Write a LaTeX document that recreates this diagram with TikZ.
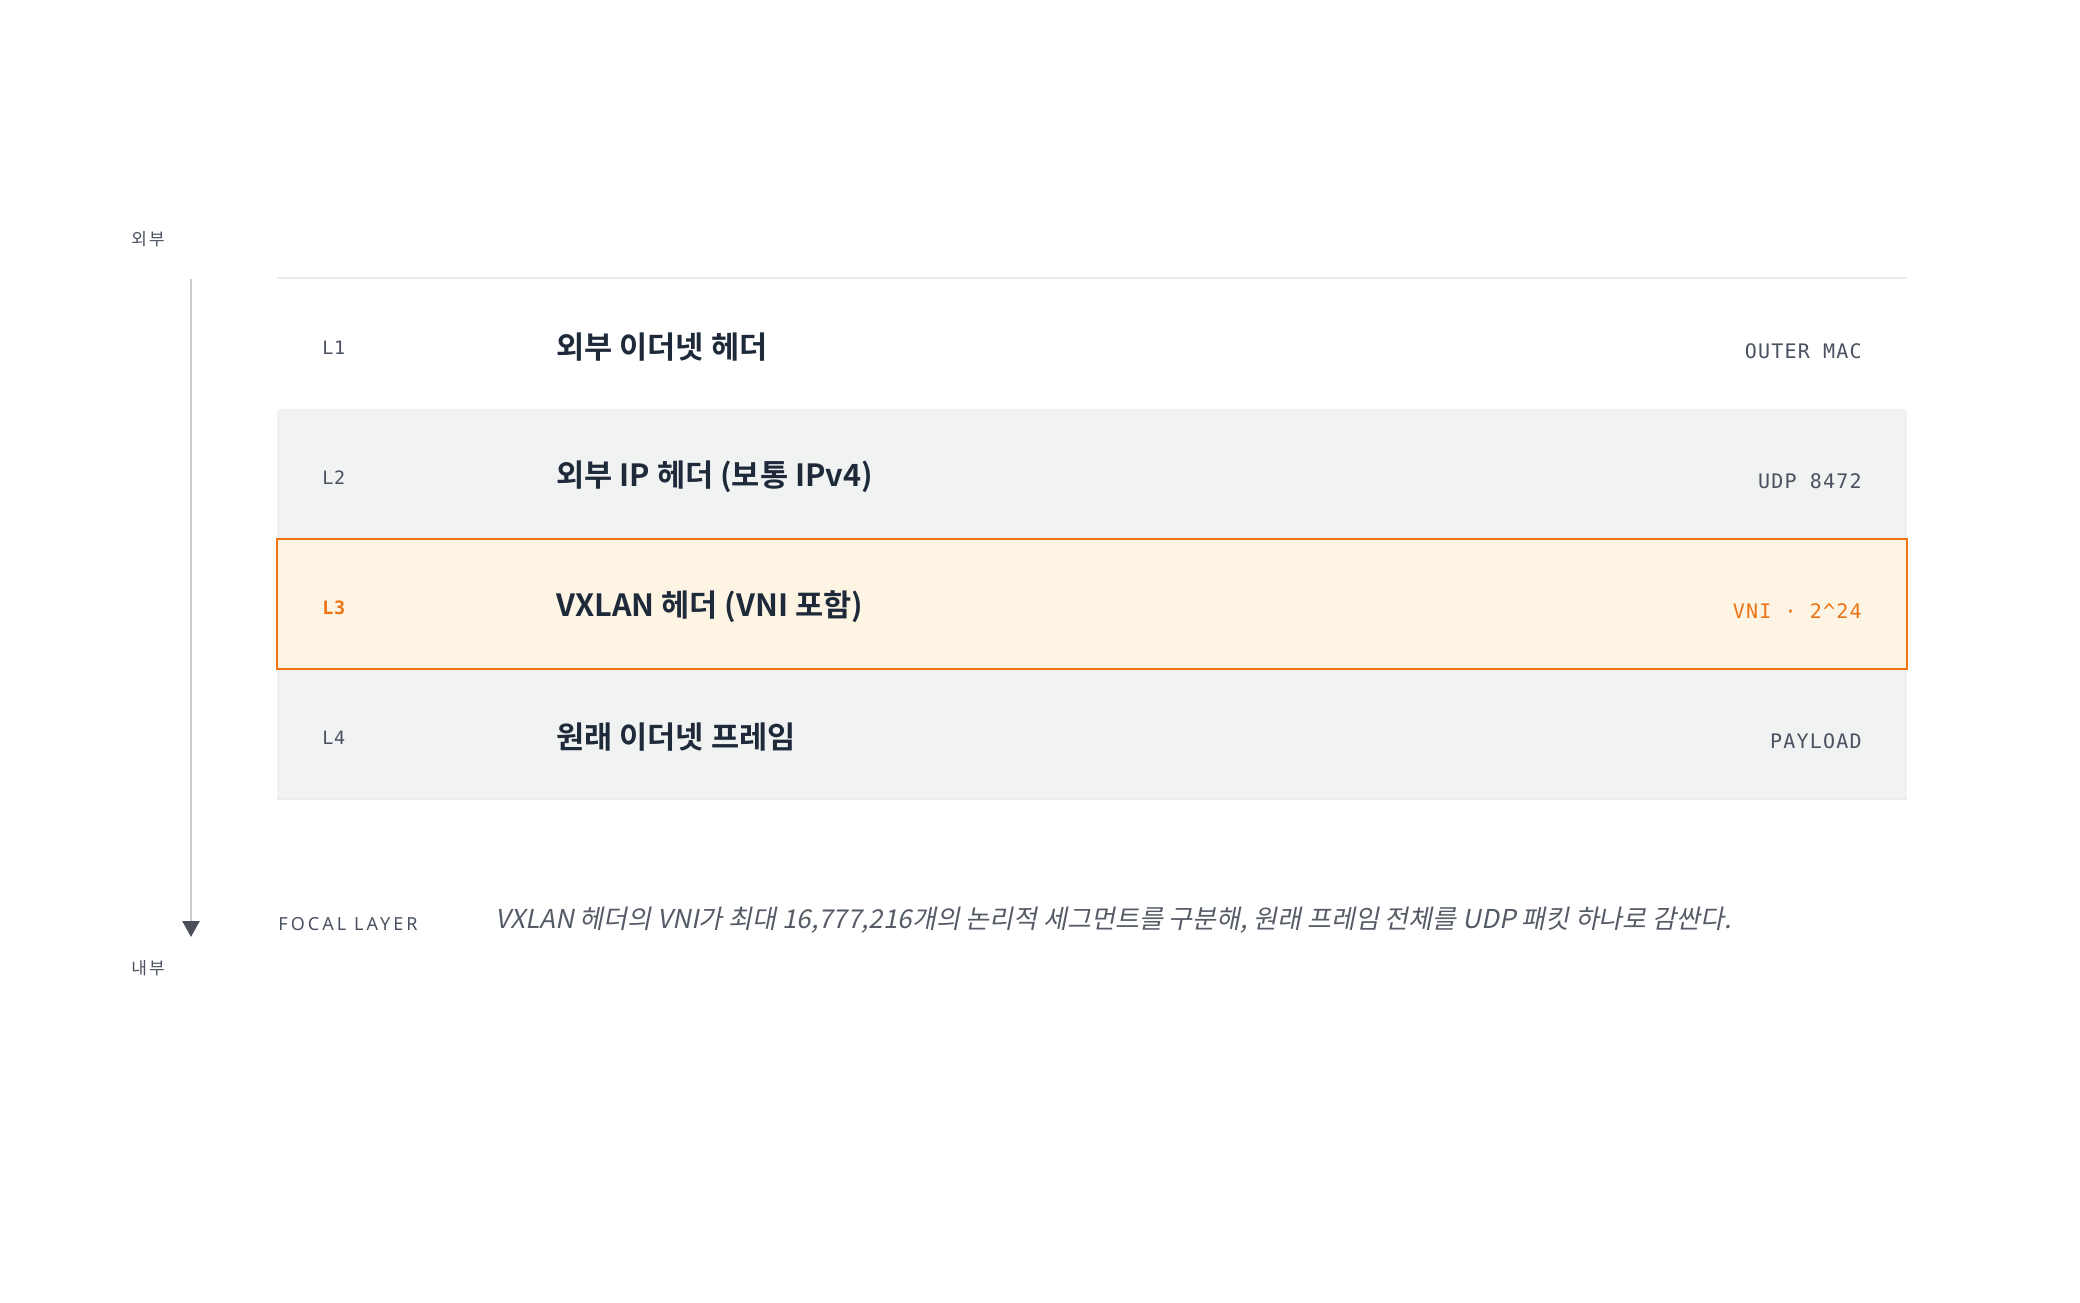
\documentclass[tikz,border=0pt]{standalone}
\usepackage{fontspec}
\usetikzlibrary{arrows.meta}
\newfontfamily\krfont{Noto Sans CJK KR}
\newfontfamily\krbold{Noto Sans CJK KR Bold}
\newfontfamily\krital{Noto Sans CJK KR}[FakeSlant=0.2]
\newfontfamily\krsmall{Noto Sans CJK KR}[LetterSpace=12]
\newfontfamily\monofont{DejaVu Sans Mono}[LetterSpace=6]
\newfontfamily\monotag{DejaVu Sans Mono}[LetterSpace=3]
\newfontfamily\capsfont{Noto Sans}[LetterSpace=17]
\definecolor{titlec}{HTML}{1E2A3A}
\definecolor{monoc}{HTML}{4A5160}
\definecolor{orangec}{HTML}{EC7414}
\definecolor{orangefill}{HTML}{FEF4E4}
\definecolor{grayfill}{HTML}{F1F3F3}
\definecolor{axisc}{HTML}{C9CBD1}
\definecolor{arrowc}{HTML}{4A4F59}
\definecolor{borderc}{HTML}{E9EBEC}
\definecolor{captionc}{HTML}{555B66}
\tikzset{
  rowbox/.style={draw=none, minimum width=815pt, minimum height=65.25pt, inner sep=0pt, outer sep=0pt},
  tag/.style={anchor=west, inner sep=0pt, font=\monotag\fontsize{9.2pt}{11pt}\selectfont, text=monoc},
  title/.style={anchor=west, inner sep=0pt, font=\krbold\fontsize{15.3pt}{18pt}\selectfont, text=titlec},
  note/.style={anchor=east, inner sep=0pt, font=\monofont\fontsize{10pt}{12pt}\selectfont, text=monoc},
  sidelabel/.style={anchor=west, inner sep=0pt, font=\krsmall\fontsize{8.5pt}{10pt}\selectfont, text=monoc},
}
\begin{document}
\begin{tikzpicture}[x=0.5pt, y=-0.5pt]
\useasboundingbox (0,0) rectangle (2080,1302);
% rows
\node[rowbox, fill=white] (r1) at (1092,343.5) {};
\node[rowbox, fill=grayfill] (r2) at (1092,474) {};
\node[rowbox, fill=orangefill] (r3) at (1092,604) {};
\node[rowbox, fill=grayfill] (r4) at (1092,734) {};
\draw[borderc, line width=1pt] (r1.north west) -- (r1.north east);
\draw[borderc, line width=1pt] (r4.south west) -- (r4.south east);
\draw[orangec, line width=1.2pt] (r3.north west) rectangle (r3.south east);
% row texts
\node[tag] (t1) at (322,348) {L1};
\node[tag] (t2) at (322,478) {L2};
\node[tag, text=orangec, font=\monotag\bfseries\fontsize{9.2pt}{11pt}\selectfont] (t3) at (322,608) {L3};
\node[tag] (t4) at (322,738) {L4};
\node[title] (h1) at (556,347) {외부 이더넷 헤더};
\node[title] (h2) at (556,477) {외부 IP 헤더 (보통 IPv4)};
\node[title] (h3) at (556,607) {VXLAN 헤더 (VNI 포함)};
\node[title] (h4) at (556,737) {원래 이더넷 프레임};
\node[note] (n1) at (1862,351) {OUTER MAC};
\node[note] (n2) at (1862,481) {UDP 8472};
\node[note, text=orangec] (n3) at (1862,611) {VNI · 2\^{}24};
\node[note] (n4) at (1862,741) {PAYLOAD};
% axis
\node[sidelabel] (outer) at (131,239) {외부};
\node[sidelabel] (inner) at (131,968) {내부};
\coordinate (atop) at (191,279);
\coordinate (abot) at (191,937);
\draw[axisc, line width=1.2pt, -{Triangle[width=8.5pt, length=8pt, color=arrowc]}] (atop) -- (abot);
% caption
\node[anchor=west, inner sep=0pt, font=\capsfont\fontsize{9pt}{11pt}\selectfont, text=monoc] (focal) at (278,924) {FOCAL LAYER};
\node[anchor=west, inner sep=0pt, font=\krital\fontsize{13pt}{15pt}\selectfont, text=captionc] (cap) at (495,920) {VXLAN 헤더의 VNI가 최대 16,777,216개의 논리적 세그먼트를 구분해, 원래 프레임 전체를 UDP 패킷 하나로 감싼다.};
\end{tikzpicture}
\end{document}
